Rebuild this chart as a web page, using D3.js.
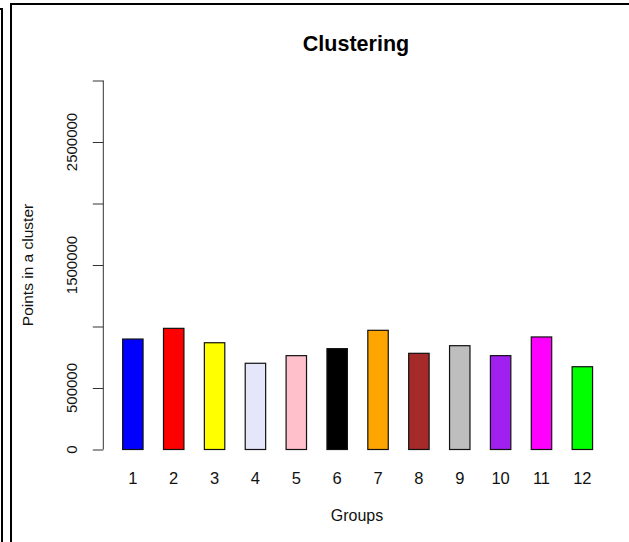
<!DOCTYPE html>
<html>
<head>
<meta charset="utf-8">
<script src="https://cdn.jsdelivr.net/npm/d3@7"></script>
<style>
  html, body { margin: 0; padding: 0; background: #fff; }
  svg { display: block; font-family: "Liberation Sans", Arial, sans-serif; }
</style>
</head>
<body>
<svg id="chart" width="629" height="542"></svg>
<script>
const groups = ["1","2","3","4","5","6","7","8","9","10","11","12"];
const points = [898000, 985000, 868000, 701000, 763000, 820000, 969000, 782000, 844000, 763000, 915000, 673000];
const barColors = ["#0000FF","#FF0000","#FFFF00","#E6E6FA","#FFC0CB","#000000","#FFA500","#A52A2A","#BEBEBE","#A020F0","#FF00FF","#00FF00"];
const yTicks = [0, 500000, 1000000, 1500000, 2000000, 2500000, 3000000];
const yTickLabels = ["0", "500000", "", "1500000", "", "2500000", ""];
const titleText = "Clustering";
const xTitle = "Groups";
const yTitle = "Points in a cluster";

const svg = d3.select("#chart");

// outer frames
svg.append("path")
  .attr("d", "M0,9 H2 V542")
  .attr("fill", "none").attr("stroke", "#000").attr("stroke-width", 2);
svg.append("path")
  .attr("d", "M11,542 V4 H629")
  .attr("fill", "none").attr("stroke", "#000").attr("stroke-width", 2);

const x = d3.scaleBand().domain(groups).range([102.2, 613]).paddingInner(0.5).paddingOuter(0.5);
const y = d3.scaleLinear().domain([0, 3000000]).range([449.5, 80.5]);

// y axis
const yAxis = d3.axisLeft(y).tickValues(yTicks).tickSize(10.5).tickFormat("");
const gy = svg.append("g").attr("transform", "translate(103.3,0)").call(yAxis);
gy.select(".domain").attr("stroke", "#333").attr("d", `M0,${y(0)}H0V${y(3000000)}H0`);
gy.selectAll(".tick line").attr("stroke", "#333");

svg.append("g").selectAll("text")
  .data(yTicks.map((v, i) => ({v, label: yTickLabels[i]})).filter(d => d.label))
  .join("text")
  .attr("transform", d => `translate(77,${y(d.v)}) rotate(-90)`)
  .attr("text-anchor", "middle")
  .attr("font-size", 15)
  .attr("fill", "#111")
  .text(d => d.label);

// bars
svg.append("g").selectAll("rect")
  .data(groups.map((g, i) => ({g, v: points[i], c: barColors[i]})))
  .join("rect")
  .attr("x", d => x(d.g))
  .attr("y", d => y(d.v))
  .attr("width", x.bandwidth())
  .attr("height", d => y(0) - y(d.v))
  .attr("fill", d => d.c)
  .attr("stroke", "#111")
  .attr("stroke-width", 1.2);

// x labels
svg.append("g").selectAll("text")
  .data(groups)
  .join("text")
  .attr("x", d => x(d) + x.bandwidth() / 2)
  .attr("y", 484)
  .attr("text-anchor", "middle")
  .attr("font-size", 16.5)
  .attr("fill", "#111")
  .text(d => d);

// titles
svg.append("text")
  .attr("x", 356).attr("y", 51)
  .attr("text-anchor", "middle")
  .attr("font-size", 21.5).attr("font-weight", "bold")
  .attr("fill", "#000")
  .text(titleText);

svg.append("text")
  .attr("x", 357).attr("y", 521)
  .attr("text-anchor", "middle")
  .attr("font-size", 16)
  .attr("fill", "#111")
  .text(xTitle);

svg.append("text")
  .attr("transform", "translate(33,265) rotate(-90)")
  .attr("text-anchor", "middle")
  .attr("font-size", 15.5)
  .attr("fill", "#111")
  .text(yTitle);
</script>
</body>
</html>
